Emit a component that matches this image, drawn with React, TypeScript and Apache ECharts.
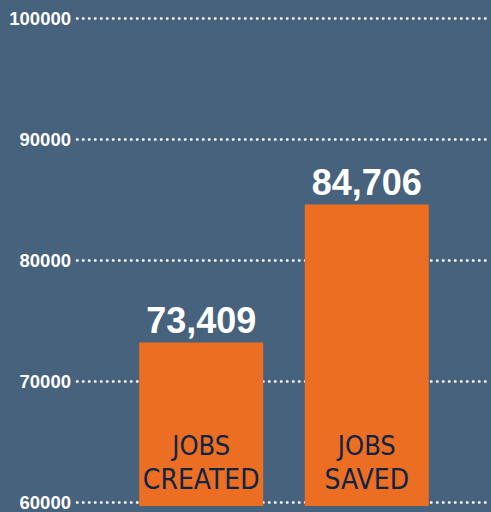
import React, { useEffect, useRef } from "react";
import * as echarts from "echarts";

const categories = ["JOBS CREATED", "JOBS SAVED"];
const jobValues = [73409, 84706];
const yMin = 60000;
const yMax = 100000;
const yInterval = 10000;

const BG = "#47627d";
const ORANGE = "#ec6e23";
const NAVY = "#0f2443";
const NARROW = '"Liberation Sans Narrow", "DejaVu Sans Condensed", "Liberation Sans", sans-serif';

export default function App() {
  const ref = useRef<HTMLDivElement>(null);
  useEffect(() => {
    if (!ref.current) return;
    const chart = echarts.init(ref.current, null, { renderer: "svg" });
    chart.setOption({
      animation: false,
      backgroundColor: BG,
      grid: [
        { left: 77, right: 0, top: 18, bottom: 6 },
        { left: 118.4, right: 41.4, top: 18, bottom: 6 },
      ],
      xAxis: [
        { type: "value", gridIndex: 0, show: false },
        {
          type: "category",
          gridIndex: 1,
          data: categories,
          axisLine: { show: false },
          axisTick: { show: false },
          axisLabel: {
            inside: true,
            margin: 8,
            interval: 0,
            formatter: (v: string) => {
              const parts = v.split(" ");
              return `{a|${parts[0]}}\n{b|${parts.slice(1).join(" ")}}`;
            },
            rich: {
              a: { fontSize: 27, lineHeight: 30, color: NAVY, fontFamily: NARROW, align: "center" },
              b: { fontSize: 28, lineHeight: 38, color: NAVY, fontFamily: NARROW, align: "center" },
            },
          },
          z: 10,
        },
      ],
      yAxis: [
        {
          type: "value",
          gridIndex: 0,
          min: yMin,
          max: yMax,
          interval: yInterval,
          axisLine: { show: false },
          axisTick: { show: false },
          axisLabel: {
            color: "#ffffff",
            fontSize: 18.5,
            fontWeight: "bold",
            fontFamily: '"Liberation Sans", Arial, sans-serif',
            margin: 6,
            formatter: (v: number) => String(v),
          },
          splitLine: {
            show: true,
            lineStyle: { color: "#ffffff", width: 2.5, type: [0.5, 5.5], cap: "round" },
          },
        },
        {
          type: "value",
          gridIndex: 1,
          min: yMin,
          max: yMax,
          interval: yInterval,
          show: false,
          splitLine: { show: false },
        },
      ],
      series: [
        {
          type: "bar",
          xAxisIndex: 1,
          yAxisIndex: 1,
          data: jobValues,
          barWidth: 124,
          itemStyle: { color: ORANGE },
          label: {
            show: true,
            position: "top",
            distance: 4,
            color: "#ffffff",
            fontSize: 36,
            fontWeight: "bold",
            fontFamily: '"Liberation Sans", Arial, sans-serif',
            formatter: (p: any) => Number(p.value).toLocaleString("en-US"),
          },
        },
      ],
    });
    return () => chart.dispose();
  }, []);
  return (
    <div
      ref={ref}
      style={{ position: "absolute", left: 0, top: 0, width: 491, height: 512 }}
    />
  );
}
